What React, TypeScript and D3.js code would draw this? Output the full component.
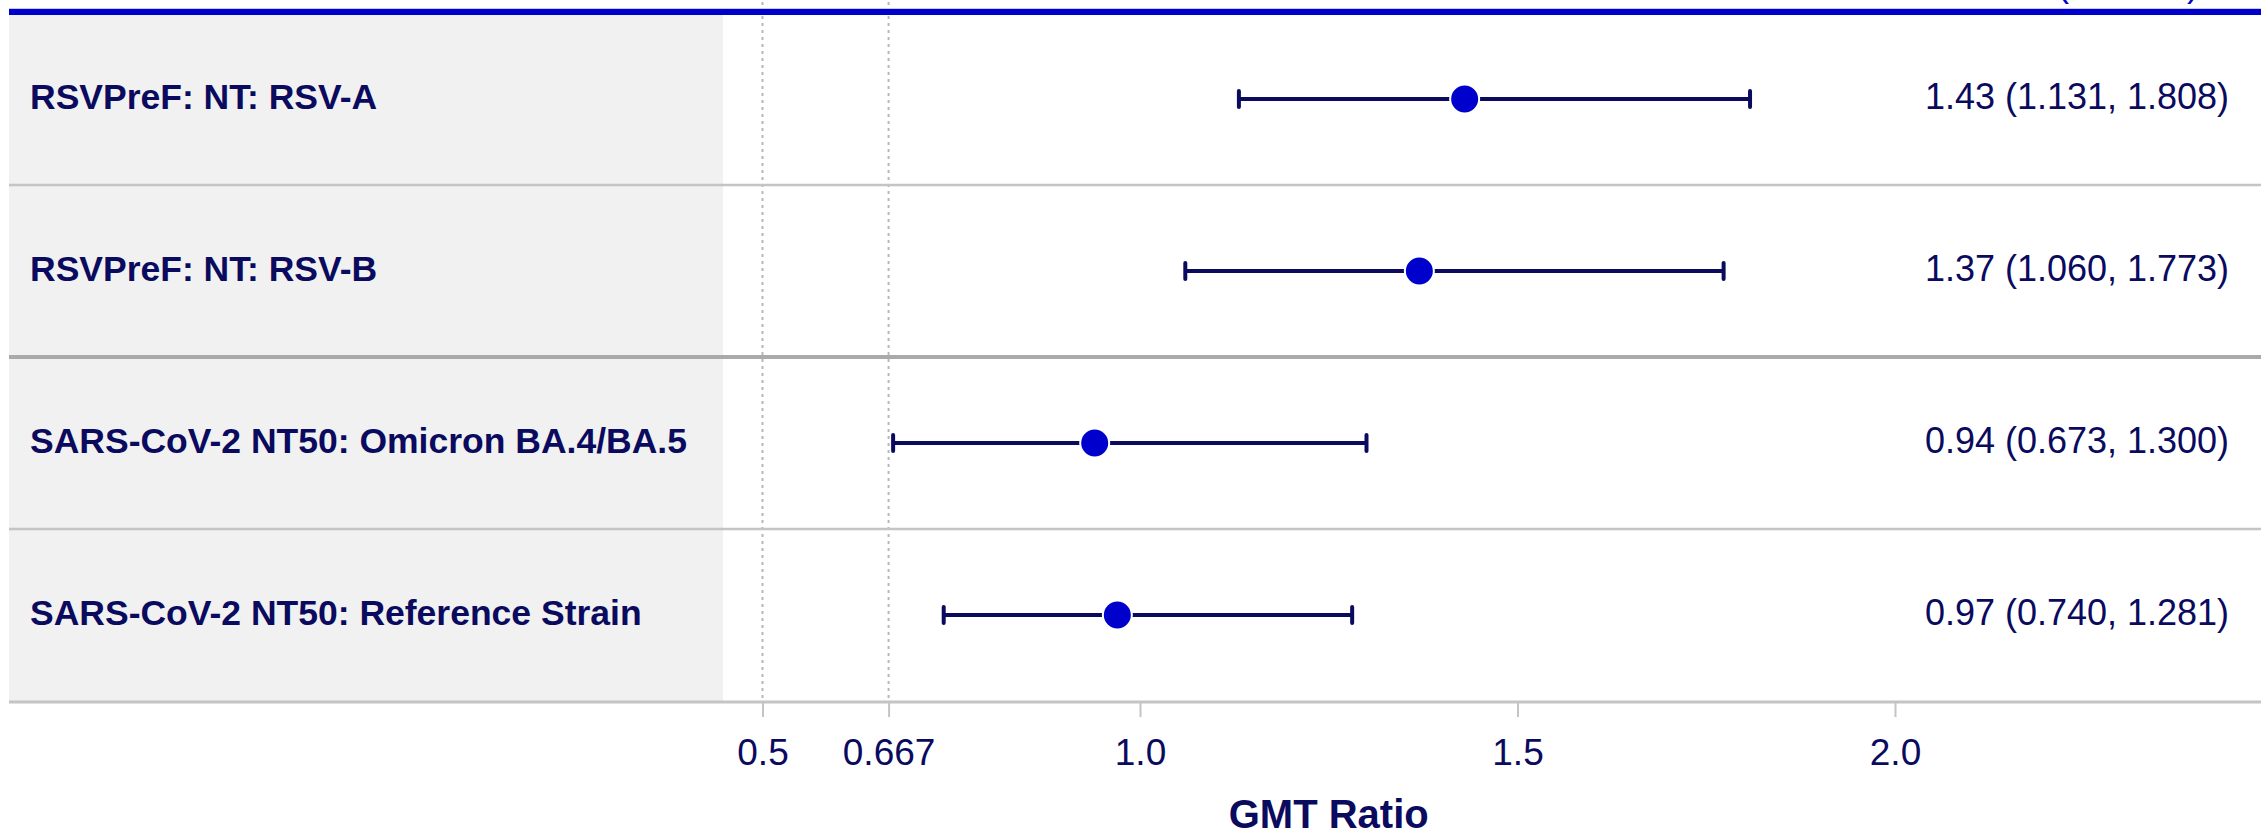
import React, { useRef, useEffect } from "react";
import * as d3 from "d3";

// Forest plot data
const labels = [
  "RSVPreF: NT: RSV-A",
  "RSVPreF: NT: RSV-B",
  "SARS-CoV-2 NT50: Omicron BA.4/BA.5",
  "SARS-CoV-2 NT50: Reference Strain",
];
const groups = ["RSV", "RSV", "SARS", "SARS"];
const ratios = [1.43, 1.37, 0.94, 0.97];
const lowers = [1.131, 1.06, 0.673, 0.74];
const uppers = [1.808, 1.773, 1.3, 1.281];
const tickValues = [0.5, 0.667, 1.0, 1.5, 2.0];
const tickLabels = ["0.5", "0.667", "1.0", "1.5", "2.0"];
const refLines = [0.5, 0.667];

const NAVY = "#0a0a5e";
const BLUE = "#0000cc";
const FONT = "'Liberation Sans', Arial, Helvetica, sans-serif";

const App = () => {
  const svgRef = useRef<SVGSVGElement>(null);

  useEffect(() => {
    const width = 2261;
    const height = 829;
    const left = 9;
    const shadeRight = 723;
    const top = 13;
    const bottom = 701;

    const svg = d3.select(svgRef.current).attr("width", width).attr("height", height);
    svg.selectAll("*").remove();

    const x = d3.scaleLinear().domain([0.5, 2.0]).range([762.5, 1895]);
    const y = d3.scaleBand<string>().domain(labels).range([top, bottom]).padding(0);
    const fmt = d3.format(".3f");

    // grey label panel
    svg.append("rect")
      .attr("x", left).attr("y", 15)
      .attr("width", shadeRight - left).attr("height", bottom - 15)
      .attr("fill", "#f1f1f1");

    // header text, only its lower edge shows above the top rule
    svg.append("text")
      .attr("x", 2057).attr("y", -4)
      .attr("font-family", FONT).attr("font-size", 36)
      .attr("fill", BLUE)
      .text("(95% CI)");

    // dotted reference lines
    svg.selectAll(".ref")
      .data(refLines)
      .join("line")
      .attr("x1", (d) => x(d)).attr("x2", (d) => x(d))
      .attr("y1", 2).attr("y2", bottom)
      .attr("stroke", "#b8b8b8").attr("stroke-width", 2)
      .attr("stroke-dasharray", "3,4");

    // row separators
    labels.slice(1).forEach((lab, i) => {
      const groupBreak = groups[i + 1] !== groups[i];
      svg.append("line")
        .attr("x1", left).attr("x2", width)
        .attr("y1", y(lab)!).attr("y2", y(lab)!)
        .attr("stroke", groupBreak ? "#aaaaaa" : "#c4c4c4")
        .attr("stroke-width", groupBreak ? 4 : 2.5);
    });

    // top rule
    svg.append("line")
      .attr("x1", left).attr("x2", width)
      .attr("y1", 8.5).attr("y2", 8.5)
      .attr("stroke", "#c8c8ec").attr("stroke-width", 1);
    svg.append("line")
      .attr("x1", left).attr("x2", width)
      .attr("y1", 12).attr("y2", 12)
      .attr("stroke", BLUE).attr("stroke-width", 6);

    // x axis
    const axis = svg.append("g")
      .attr("transform", `translate(0,${bottom + 1})`)
      .call(
        d3.axisBottom(x)
          .tickValues(tickValues)
          .tickFormat((_, i) => tickLabels[i])
          .tickSize(15)
          .tickPadding(22)
      );
    axis.select(".domain").remove();
    axis.append("line")
      .attr("x1", left).attr("x2", width)
      .attr("stroke", "#c4c4c4").attr("stroke-width", 3);
    axis.selectAll(".tick line").attr("stroke", "#c4c4c4").attr("stroke-width", 2);
    axis.selectAll(".tick text")
      .attr("fill", NAVY)
      .attr("font-family", FONT)
      .attr("font-size", 37);

    svg.append("text")
      .attr("x", (x(0.5) + x(2.0)) / 2).attr("y", 828)
      .attr("text-anchor", "middle")
      .attr("font-family", FONT).attr("font-size", 40).attr("font-weight", "bold")
      .attr("fill", NAVY)
      .text("GMT Ratio");

    const rows = svg.selectAll(".row")
      .data(labels)
      .join("g")
      .attr("transform", (d) => `translate(0,${y(d)! + y.bandwidth() / 2})`);

    rows.append("text")
      .attr("x", 30).attr("y", 9.5)
      .attr("font-family", FONT).attr("font-size", 35.5).attr("font-weight", "bold")
      .attr("fill", NAVY)
      .text((d) => d);

    // CI bars
    rows.append("line")
      .attr("x1", (_, i) => x(lowers[i])).attr("x2", (_, i) => x(uppers[i]))
      .attr("stroke", NAVY).attr("stroke-width", 4);
    rows.append("line")
      .attr("x1", (_, i) => x(lowers[i])).attr("x2", (_, i) => x(lowers[i]))
      .attr("y1", -8).attr("y2", 8)
      .attr("stroke", NAVY).attr("stroke-width", 4).attr("stroke-linecap", "round");
    rows.append("line")
      .attr("x1", (_, i) => x(uppers[i])).attr("x2", (_, i) => x(uppers[i]))
      .attr("y1", -8).attr("y2", 8)
      .attr("stroke", NAVY).attr("stroke-width", 4).attr("stroke-linecap", "round");
    rows.append("circle")
      .attr("cx", (_, i) => x(ratios[i]))
      .attr("r", 14.5)
      .attr("fill", BLUE)
      .attr("stroke", "#ffffff").attr("stroke-width", 2);

    rows.append("text")
      .attr("x", 2077).attr("y", 10)
      .attr("text-anchor", "middle")
      .attr("font-family", FONT).attr("font-size", 36)
      .attr("fill", NAVY)
      .text((_, i) => `${ratios[i].toFixed(2)} (${fmt(lowers[i])}, ${fmt(uppers[i])})`);
  }, []);

  return (
    <div style={{ position: "absolute", left: 0, top: 0 }}>
      <svg ref={svgRef} style={{ display: "block", background: "#ffffff" }} />
    </div>
  );
};

export default App;
